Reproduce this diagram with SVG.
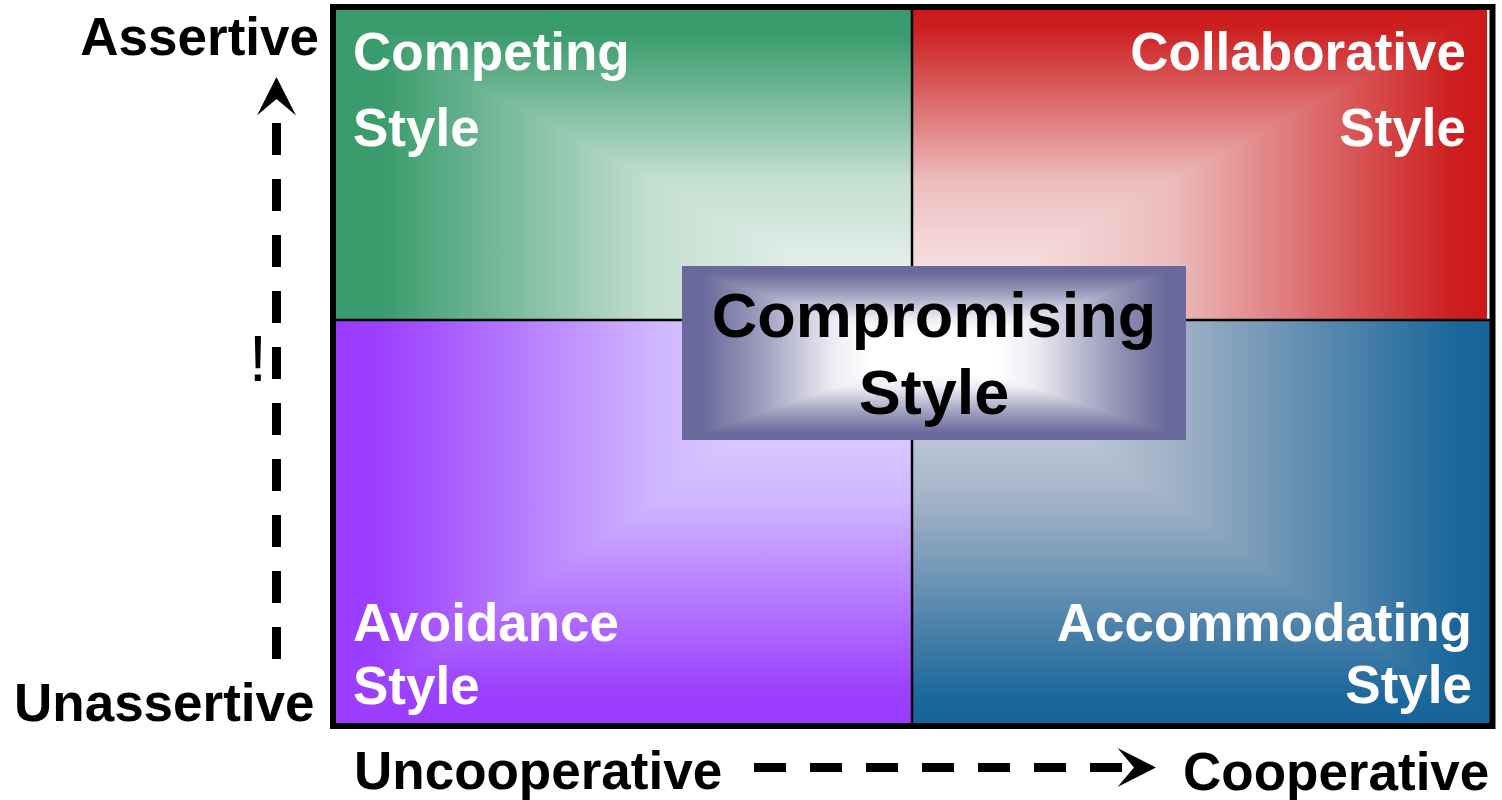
<svg xmlns="http://www.w3.org/2000/svg" width="1502" height="800" viewBox="0 0 1502 800">
<style>
  text { font-family: "Liberation Sans", Arial, Helvetica, sans-serif; font-weight: bold; }
  .lbl { font-size: 53px; fill: #ffffff; }
  .axis { font-size: 53px; fill: #000000; }
  .big { font-size: 63px; fill: #000000; text-anchor: middle; }
  .end { text-anchor: end; }
  .dash { stroke: #000000; stroke-width: 9; stroke-dasharray: 32 24; fill: none; marker-end: url(#ah); }
  .div { stroke: #000000; stroke-width: 2.5; fill: none; }
  .bang { font-family: "Liberation Sans", Arial, sans-serif; font-weight: normal; font-size: 64px; fill: #000000; }
</style>
<defs>
  <linearGradient id="green">
    <stop offset="0" stop-color="#3a9c6c"/>
    <stop offset="0.08" stop-color="#3a9c6c"/>
    <stop offset="0.55" stop-color="#c4dfd2"/>
    <stop offset="1" stop-color="#f6f9f7"/>
  </linearGradient>
  <linearGradient id="red">
    <stop offset="0" stop-color="#cd1719"/>
    <stop offset="0.06" stop-color="#cd1f21"/>
    <stop offset="0.55" stop-color="#ecbcbc"/>
    <stop offset="1" stop-color="#fdf7f7"/>
  </linearGradient>
  <linearGradient id="purple">
    <stop offset="0" stop-color="#9a3cff"/>
    <stop offset="0.08" stop-color="#9c40ff"/>
    <stop offset="0.55" stop-color="#cfb6ff"/>
    <stop offset="1" stop-color="#f1eaff"/>
  </linearGradient>
  <linearGradient id="blue">
    <stop offset="0" stop-color="#17649a"/>
    <stop offset="0.06" stop-color="#1b679b"/>
    <stop offset="0.55" stop-color="#a2b2c6"/>
    <stop offset="1" stop-color="#e9ecf1"/>
  </linearGradient>
  <linearGradient id="slate">
    <stop offset="0" stop-color="#69699b"/>
    <stop offset="0.08" stop-color="#69699b"/>
    <stop offset="0.3" stop-color="#9a9abb"/>
    <stop offset="0.6" stop-color="#ececf3"/>
    <stop offset="0.75" stop-color="#ffffff"/>
    <stop offset="1" stop-color="#ffffff"/>
  </linearGradient>
  <linearGradient id="g1h" href="#green" gradientUnits="userSpaceOnUse" x1="336" y1="0" x2="912" y2="0"/>
  <linearGradient id="g1v" href="#green" gradientUnits="userSpaceOnUse" x1="0" y1="10" x2="0" y2="320"/>
  <linearGradient id="g2h" href="#red" gradientUnits="userSpaceOnUse" x1="1487" y1="0" x2="912" y2="0"/>
  <linearGradient id="g2v" href="#red" gradientUnits="userSpaceOnUse" x1="0" y1="10" x2="0" y2="320"/>
  <linearGradient id="g3h" href="#purple" gradientUnits="userSpaceOnUse" x1="336" y1="0" x2="912" y2="0"/>
  <linearGradient id="g3v" href="#purple" gradientUnits="userSpaceOnUse" x1="0" y1="723" x2="0" y2="320"/>
  <linearGradient id="g4h" href="#blue" gradientUnits="userSpaceOnUse" x1="1490" y1="0" x2="912" y2="0"/>
  <linearGradient id="g4v" href="#blue" gradientUnits="userSpaceOnUse" x1="0" y1="723" x2="0" y2="320"/>
  <linearGradient id="cH" href="#slate" gradientUnits="userSpaceOnUse" spreadMethod="reflect" x1="682" y1="0" x2="934" y2="0"/>
  <linearGradient id="cV" href="#slate" gradientUnits="userSpaceOnUse" spreadMethod="reflect" x1="0" y1="266" x2="0" y2="353"/>
  <marker id="ah" viewBox="-17 -21 41 42" refX="0" refY="0" markerWidth="41" markerHeight="42" markerUnits="userSpaceOnUse" orient="auto">
    <path d="M22,0 L-16.5,-19.5 L0,0 L-16.5,19.5 Z" fill="#000000"/>
  </marker>
</defs>

<rect x="0" y="0" width="1502" height="800" fill="#ffffff"/>
<rect x="333" y="7" width="1159.5" height="719" fill="#ffffff"/>

<g id="competing">
  <rect x="336" y="10" width="576" height="310" fill="url(#g1h)"/>
  <polygon points="336,10 912,10 912,320" fill="url(#g1v)"/>
  <text class="lbl" x="353" y="70">Competing</text>
  <text class="lbl" x="353" y="146">Style</text>
</g>

<g id="collaborative">
  <rect x="912" y="10" width="575" height="310" fill="url(#g2h)"/>
  <polygon points="912,10 1487,10 912,320" fill="url(#g2v)"/>
  <text class="lbl end" x="1466" y="70">Collaborative</text>
  <text class="lbl end" x="1466" y="146">Style</text>
</g>

<g id="avoidance">
  <rect x="336" y="320" width="576" height="403" fill="url(#g3h)"/>
  <polygon points="336,723 912,723 912,320" fill="url(#g3v)"/>
  <text class="lbl" x="353" y="641">Avoidance</text>
  <text class="lbl" x="353" y="704">Style</text>
</g>

<g id="accommodating">
  <rect x="912" y="320" width="578" height="403" fill="url(#g4h)"/>
  <polygon points="912,723 1490,723 912,320" fill="url(#g4v)"/>
  <text class="lbl end" x="1472" y="641">Accommodating</text>
  <text class="lbl end" x="1472" y="703">Style</text>
</g>

<g id="dividers">
  <line class="div" x1="912" y1="10" x2="912" y2="723"/>
  <line class="div" x1="336" y1="320" x2="1490" y2="320"/>
</g>

<g id="frame">
  <rect x="333" y="7" width="1159.5" height="719" fill="none" stroke="#000000" stroke-width="6"/>
</g>

<g id="compromising">
  <rect x="682" y="266" width="504" height="174" fill="url(#cH)"/>
  <polygon points="682,266 1186,266 934,353" fill="url(#cV)"/>
  <polygon points="682,440 1186,440 934,353" fill="url(#cV)"/>
  <text class="big" x="934" y="337">Compromising</text>
  <text class="big" x="934" y="414">Style</text>
</g>

<g id="axis-labels">
  <text class="axis end" x="319" y="55">Assertive</text>
  <text class="axis" x="14" y="721">Unassertive</text>
  <text class="axis" x="354" y="789">Uncooperative</text>
  <text class="axis" x="1183" y="790">Cooperative</text>
  <text class="bang" x="249" y="381">!</text>
</g>

<g id="connectors">
  <line class="dash" x1="276.5" y1="659" x2="276.5" y2="99"/>
  <line class="dash" x1="754" y1="767.5" x2="1134" y2="767.5"/>
</g>
</svg>
